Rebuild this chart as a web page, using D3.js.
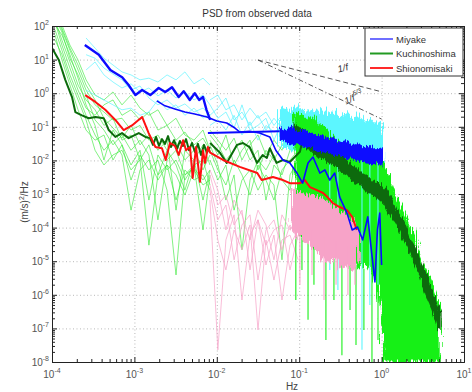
<!DOCTYPE html>
<html><head><meta charset="utf-8">
<script src="https://cdn.jsdelivr.net/npm/d3@7"></script>
<style>body{margin:0;background:#fff}text{font-family:"Liberation Sans",Arial,sans-serif}</style>
</head><body><svg id="c" width="472" height="392"></svg>
<script>
// ---------------- DATA (Hz, (m/s)^2/Hz) ----------------
const lowF = [1.09e-4,1.32e-4,1.65e-4,2.07e-4,2.59e-4,3.33e-4,4.27e-4,5.5e-4,7.07e-4,9.1e-4,1.17e-3,1.5e-3,1.93e-3,2.49e-3,3.2e-3,4.1e-3,5.29e-3,6.8e-3,8.26e-3];
const kuThinLow = [
 [2.1e2,7.6e1,1.9e1,4.9,1.24,0.45,0.275,0.16,0.18,0.08,0.11,0.04,0.057,0.02,0.035,0.0103,0.02,0.0052,0.0145],
 [1.5e2,3.8e1,8.5,1.75,0.63,0.32,0.11,0.18,0.04,0.057,0.0103,0.029,0.0037,0.02,0.0073,0.0013,0.0103,6.6e-4,0.0052],
 [3.0e2,1.07e2,2.7e1,9.7,2.5,0.88,0.63,1.09,0.45,0.88,0.36,0.22,0.32,0.11,0.18,0.057,0.04,0.08,0.02],
 [7.6e1,1.9e1,3.5,0.88,0.22,0.057,0.02,0.04,0.0145,3.3e-4,0.0052,0.0103,0.0026,0.0073,0.0037,9.3e-4,0.0052,0.00185,0.0026],
 [1.07e2,5.4e1,1.4e1,2.8,0.45,0.11,0.0103,0.08,0.029,0.0073,0.02,6.6e-4,0.0145,0.0052,0.0103,0.0026,0.0073,8.5e-5,0.0037],
 [1.7e2,6.6e1,1.1e1,3.5,0.88,0.16,0.08,0.029,0.057,0.02,0.04,0.0145,1.7e-4,0.0103,0.02,0.0037,0.0073,0.0103,0.00185],
 [3.8e1,1.4e1,2.5,0.63,0.16,0.02,0.0073,0.0145,0.02,0.0052,0.0103,3.0e-5,0.0037,0.0073,6.6e-4,0.0052,0.0026,0.0037,0.0013],
 [1.3e2,2.7e1,5.6,1.24,0.36,0.22,0.45,0.63,0.22,0.32,0.16,0.275,0.08,0.11,0.04,0.07,0.029,0.046,0.02],
 [5.4e1,9.7,1.75,0.32,0.08,0.04,0.057,0.0103,0.029,0.0026,0.0145,0.0052,0.0103,0.0013,3.9e-6,0.0037,0.0059,0.0026,0.0052],
 [2.6e2,8.7e1,2.2e1,6.9,1.75,0.63,0.18,0.092,0.046,0.11,0.029,0.057,0.02,0.04,3.3e-4,0.02,0.0103,0.029,0.0073]
];
const cyLowF = [2.59e-4,3.33e-4,4.27e-4,5.5e-4,7.07e-4,9.1e-4,1.17e-3,1.5e-3,1.93e-3,2.49e-3,3.2e-3,4.1e-3,5.29e-3,6.8e-3,8.26e-3];
const miThinLow = [
 [44,22,11,6.9,4.3,3.5,2.5,2.8,2.15,3.5,2.5,4.3,1.9,2.8,1.75],
 [4.9,8.5,3.5,2.15,1.43,1.9,1.09,1.43,0.83,1.24,0.72,1.09,0.63,0.88,0.45],
 [14,11,5.6,3.7,2.5,1.24,1.64,0.72,0.45,0.63,0.36,0.48,0.275,0.36,0.22],
 [1.24,0.88,0.63,0.45,0.32,0.36,0.22,0.275,0.63,0.32,0.45,0.22,0.36,0.18,0.275]
];
const midF = [8.26e-3,1.03e-2,1.29e-2,1.62e-2,2.02e-2,2.53e-2,3.16e-2,3.95e-2,4.94e-2,6.18e-2,7.73e-2,9.7e-2];
const miThinMid = [
 [0.63,0.88,0.32,0.45,0.16,0.36,0.18,0.275,0.11,0.22,0.16,0.18],
 [0.22,0.36,0.72,0.16,0.275,0.11,0.22,0.08,0.18,0.092,0.14,0.11],
 [0.11,0.16,0.08,0.22,0.057,0.14,0.04,0.11,0.07,0.092,0.057,0.08],
 [0.45,0.18,0.275,0.092,0.45,0.08,0.11,0.18,0.04,0.14,0.08,0.16]
];
const kuThinMid = [
 [0.04,0.0145,0.057,0.0073,0.02,0.04,0.0052,0.02,0.0103,0.029,0.057,0.11],
 [0.02,0.0052,0.00185,0.0103,0.0037,9.3e-4,0.0073,0.0026,6.6e-4,0.0052,0.0103,0.02],
 [0.057,0.029,0.0103,0.02,0.04,0.0103,0.02,6.6e-4,0.0073,0.0037,0.02,0.04],
 [0.0103,0.0026,0.0073,3.3e-4,0.0026,0.0052,0.0013,0.0037,0.00185,1.1e-5,0.0037,0.0103],
 [0.029,0.0073,6.6e-4,0.0037,2.2e-5,0.0026,0.0103,0.0052,0.0145,0.0026,0.0013,0.029],
 [0.08,0.04,0.02,0.046,0.0103,0.029,0.057,0.0145,0.04,0.02,0.08,0.16]
];
const shThinMid = [
 [0.0052,0.0013,8.5e-5,6.6e-4,2.4e-4,4.3e-5,3.3e-4,1.2e-4,1.1e-5,2.4e-4,8.5e-5,1.7e-4],
 [0.00185,1.7e-4,4.7e-4,1.1e-5,1.2e-4,2.4e-4,2.75e-6,8.5e-5,1.7e-4,2.2e-5,1.2e-4,4.3e-5],
 [6.6e-4,2.3e-8,4.3e-5,2.4e-4,7.0e-7,6.0e-5,1.7e-4,7.7e-6,6.0e-5,7.0e-7,3.0e-5,8.5e-5],
 [0.0037,4.7e-4,9.3e-4,1.2e-4,3.3e-4,5.5e-6,1.7e-4,3.0e-5,8.5e-5,1.2e-4,5.5e-6,6.0e-5],
 [0.0013,4.3e-5,5.5e-6,8.5e-5,2.2e-5,1.2e-4,9.0e-8,4.3e-5,2.75e-6,4.3e-5,6.0e-5,1.1e-5]
];
// high-frequency envelopes
const hiF = [5.8e-2,6.9e-2,8.2e-2,9.7e-2,1.15e-1,1.35e-1,1.6e-1,1.9e-1,2.24e-1,2.64e-1,3.1e-1,3.7e-1,4.4e-1,5.2e-1,6.1e-1,7.2e-1,8.55e-1,1.0];
const miBandHi = [0.092,0.075,0.099,0.065,0.08,0.061,0.05,0.057,0.04,0.046,0.033,0.038,0.027,0.031,0.023,0.027,0.02,0.023];
const miBandLo = [0.046,0.038,0.029,0.033,0.025,0.027,0.02,0.018,0.019,0.0145,0.0155,0.0118,0.0126,0.0096,0.0103,0.0078,0.009,0.0073];
const miIndHi = [0.275,0.36,0.26,0.42,0.3,0.34,0.22,0.36,0.24,0.275,0.18,0.26,0.16,0.21,0.13,0.17,0.106,0.14];
const miIndLo = [0.031,0.025,0.019,0.022,0.017,0.018,0.0135,0.0118,0.0126,0.0096,0.0103,0.0078,0.0084,0.0064,0.0068,0.0052,0.0059,0.0048];
const kuF = [8.9e-2,1.05e-1,1.24e-1,1.47e-1,1.74e-1,2.06e-1,2.43e-1,2.88e-1,3.4e-1,4.0e-1,4.75e-1,5.6e-1,6.65e-1,7.9e-1,9.3e-1,1.1,1.3,1.54,1.82,2.15,2.54,3.0,3.56,4.2,4.98];
const kuIndHi = [0.22,0.275,0.18,0.21,0.12,0.092,0.053,0.035,0.027,0.02,0.0155,0.0135,0.0118,0.0103,0.009,0.0059,0.0023,6.6e-4,2.9e-4,1.1e-4,4.3e-5,1.4e-5,4.8e-6,1.6e-6,5.0e-7];
const kuIndLo = [1.2e-4,4.3e-5,6.0e-5,2.2e-5,3.0e-5,1.5e-5,2.2e-5,9.5e-6,1.25e-5,7.7e-6,1.1e-5,6.3e-6,7.7e-6,3.9e-6,1.4e-6,1e-8,1e-8,1e-8,1e-8,1e-8,1e-8,1e-8,1e-8,1e-8,1e-8];
const kuBandHi = [0.106,0.08,0.065,0.038,0.033,0.023,0.022,0.0135,0.0118,0.0073,0.0059,0.0039,0.0032,0.0021,0.002,0.00123,6.6e-4,2.7e-4,1.5e-4,4.9e-5,2.5e-5,7.7e-6,3.2e-6,9.2e-7,3.1e-7];
const kuBandLo = [0.046,0.04,0.025,0.019,0.0126,0.0118,0.0084,0.0068,0.0045,0.0037,0.0023,0.002,0.00123,0.00107,7.6e-4,5.4e-4,2.5e-4,1.4e-4,5.2e-5,2.5e-5,8.8e-6,3.9e-6,1.05e-6,4.0e-7,9.0e-8];
const shF = [8.2e-2,9.7e-2,1.15e-1,1.35e-1,1.6e-1,1.9e-1,2.24e-1,2.64e-1,3.1e-1,3.7e-1,4.4e-1,5.2e-1];
const shIndHi = [0.0013,0.00115,0.001,8.7e-4,9.3e-4,7.1e-4,5.4e-4,4.1e-4,3.3e-4,2.5e-4,1.7e-4,7.4e-5];
const shIndLo = [9.7e-5,6.0e-5,4.3e-5,3.0e-5,2.2e-5,1.4e-5,9.5e-6,1.25e-5,6.3e-6,7.7e-6,4.8e-6,9.5e-6];
// downward spikes of the individual records
const kuSpikeF = [9.1e-2,1.08e-1,1.28e-1,1.51e-1,2.11e-1,2.64e-1,3.3e-1,4.14e-1,4.89e-1,6.1e-1,7.64e-1,9.04e-1];
const kuSpikeTop = [1e-4,5e-5,4e-5,2.5e-5,1.5e-5,1.2e-5,1e-5,8e-6,8e-6,6e-6,5e-6,3e-6];
const kuSpikeBot = [7.0e-7,5.5e-6,1.8e-7,2.0e-6,4.5e-8,7.0e-7,1.6e-8,3.5e-7,3.2e-8,9.0e-8,1e-8,4.5e-8];
const miSpikeF = [2.35e-1,2.95e-1,5.78e-1,7.2e-1,9.04e-1];
const miSpikeTop = [0.012,0.0103,0.01,0.008,0.008];
const miSpikeBot = [5.5e-6,1.4e-6,2.3e-8,5e-7,2.0e-6];
const shSpikeF = [1.02e-1,1.43e-1,2.0e-1,2.8e-1,3.9e-1,4.75e-1];
const shSpikeTop = [1e-4,8e-5,5e-5,4e-5,3e-5,3e-5];
const shSpikeBot = [2.0e-6,3.9e-6,7.0e-7,2.0e-6,9.9e-7,2.0e-6];
// thick (representative) curves
const miyLowF = [2.5e-4,3.7e-4,5.1e-4,7.1e-4,8.5e-4,1.03e-3,1.24e-3,1.56e-3,1.97e-3,2.37e-3,2.86e-3,3.45e-3,3.96e-3,4.7e-3,5.4e-3,6.1e-3,6.8e-3,7.5e-3,8.3e-3];
const miyLowV = [27,14,4.9,3.0,1.75,0.88,1.24,0.88,1.43,1.09,1.5,0.77,1.15,0.63,1.0,0.63,0.77,0.32,0.16];
const miyMidF = [1.87e-3,2.35e-3,3.1e-3,4.1e-3,5.4e-3,7.6e-3,1.0e-2,1.32e-2,1.66e-2,1.9e-2,2.5e-2,3.3e-2,4.4e-2,5.2e-2,6.35e-2,7.7e-2,9.4e-2,1.1e-1,1.28e-1,1.47e-1,1.78e-1,2.05e-1,2.35e-1,2.7e-1,3.1e-1,3.8e-1,4.4e-1,5.1e-1,5.9e-1,6.8e-1,7.5e-1,8.3e-1,8.9e-1,9.5e-1,1.0];
const miyMidV = [0.59,0.42,0.34,0.275,0.24,0.196,0.149,0.13,0.092,0.07,0.074,0.065,0.05,0.02,0.0103,0.0084,0.0042,0.0021,0.0084,0.0126,0.0042,0.0052,0.0026,0.0042,8.1e-4,2.7e-4,8.5e-5,1.04e-4,4.3e-5,2.1e-4,2.2e-5,2.4e-6,8.5e-5,2.7e-4,7.7e-6];
const miyLinkF = [7.8e-3,5.8e-2];
const miyLinkV = [0.065,0.074];
const kuLowF = [1.0e-4,1.21e-4,1.45e-4,1.75e-4,1.92e-4,2.31e-4,2.79e-4,3.36e-4,4.24e-4,4.88e-4,5.87e-4,7.07e-4,8.5e-4,1.13e-3,1.36e-3,1.55e-3,1.68e-3,1.83e-3,1.99e-3,2.16e-3,2.35e-3,2.56e-3,2.78e-3,3.03e-3,3.29e-3,3.57e-3,3.89e-3,4.23e-3,4.6e-3,5.0e-3,5.43e-3,5.9e-3,6.43e-3,7.0e-3,7.6e-3,8.26e-3];
const kuLowV = [22,9.7,2.5,0.77,0.275,0.22,0.18,0.196,0.18,0.08,0.05,0.065,0.046,0.065,0.05,0.046,0.029,0.05,0.027,0.043,0.031,0.053,0.025,0.04,0.022,0.038,0.027,0.043,0.02,0.033,0.018,0.031,0.0145,0.029,0.017,0.025];
const kuMidF = [8.3e-3,1.09e-2,1.32e-2,1.76e-2,2.08e-2,2.5e-2,3.08e-2,3.6e-2,4.05e-2,4.4e-2,5.3e-2,6.35e-2,7.7e-2,1.02e-1,1.1e-1];
const kuMidV = [0.033,0.017,0.0084,0.029,0.033,0.025,0.0084,0.0145,0.0118,0.023,0.0084,0.0103,0.009,0.018,0.04];
const shF2 = [2.53e-4,3.36e-4,4.43e-4,5.87e-4,7.42e-4,9.35e-4,1.24e-3,1.49e-3,1.8e-3,2.16e-3,2.4e-3,2.7e-3,3.1e-3,3.45e-3,3.9e-3,4.23e-3,4.73e-3,5.1e-3,5.6e-3,6.25e-3,6.8e-3,7.2e-3,7.8e-3,8.3e-3,1.19e-2,1.9e-2,3.1e-2,3.5e-2,4.8e-2,6.35e-2,7.7e-2,1.02e-1,1.17e-1,1.35e-1,1.64e-1,1.95e-1,2.2e-1,2.55e-1,3.1e-1,3.8e-1,4.4e-1,5.0e-1];
const shV = [0.88,0.55,0.32,0.16,0.08,0.11,0.196,0.065,0.025,0.023,0.0103,0.033,0.027,0.0145,0.04,0.02,0.025,0.003,0.025,0.0023,0.02,0.0084,0.025,0.017,0.0103,0.0064,0.0042,0.0026,0.0032,0.0026,0.0021,0.0021,0.0026,0.0016,0.0013,0.00107,8.1e-4,5.4e-4,4.1e-4,3.3e-4,2.1e-4,8.5e-5];
// reference slopes
const refF = [0.0316,1.0];
const refInv = [9.7,1.1];
const refInv53 = [9.7,0.17];
const stations = ["Miyake","Kuchinoshima","Shionomisaki"];
const xExp = [-4,-3,-2,-1,0,1];
const yExp = [-8,-7,-6,-5,-4,-3,-2,-1,0,1,2];

// ---------------- DRAWING ----------------
const svg = d3.select("#c");
const L = 52, R = 464, T = 26, B = 362;
const x = d3.scaleLog().domain([1e-4, 10]).range([L, R]);
const y = d3.scaleLog().domain([1e-8, 1e2]).range([B, T]);
const zip = (f, v) => f.map((d, i) => [d, v[i]]);
const line = d3.line().x(d => x(d[0])).y(d => y(d[1]));
const area = d3.area().x(d => x(d[0])).y0(d => y(d[1])).y1(d => y(d[2]));

const defs = svg.append("defs");
defs.append("clipPath").attr("id", "clip")
  .append("rect").attr("x", L).attr("y", T).attr("width", R - L).attr("height", B - T);
// fuzzy edge texture for the dense spectra
[["nzA", 7, 3], ["nzB", 14, 7]].forEach(([id, sc, seed]) => {
  const f = defs.append("filter").attr("id", id).attr("filterUnits", "userSpaceOnUse")
    .attr("x", 0).attr("y", 0).attr("width", 472).attr("height", 392);
  f.append("feTurbulence").attr("type", "fractalNoise").attr("baseFrequency", "0.8 0.04")
    .attr("numOctaves", 2).attr("seed", seed).attr("result", "t");
  f.append("feDisplacementMap").attr("in", "SourceGraphic").attr("in2", "t").attr("scale", sc)
    .attr("xChannelSelector", "B").attr("yChannelSelector", "R");
});

// grid
const majX = xExp.map(e => Math.pow(10, e));
const majY = yExp.map(e => Math.pow(10, e));
const grid = svg.append("g");
grid.append("g").attr("transform", `translate(0,${B})`)
  .call(d3.axisBottom(x).tickValues(majX.slice(1, -1)).tickSize(-(B - T)).tickFormat(""))
  .call(g => g.select(".domain").remove());
grid.append("g").attr("transform", `translate(${L},0)`)
  .call(d3.axisLeft(y).tickValues(majY.slice(1, -1)).tickSize(-(R - L)).tickFormat(""))
  .call(g => g.select(".domain").remove());
grid.selectAll(".tick line").attr("stroke", "#b0b0b0").attr("stroke-dasharray", "1,2.5").attr("stroke-width", 0.9);

const P = svg.append("g").attr("clip-path", "url(#clip)");
const drawLine = (data, col, w, op) => P.append("path").attr("d", line(data)).attr("fill", "none")
  .attr("stroke", col).attr("stroke-width", w).attr("stroke-opacity", op === undefined ? 1 : op).attr("stroke-linejoin", "round");
const drawBand = (f, lo, hi, col, nz, sw) => P.append("path").attr("d", area(f.map((d, i) => [d, lo[i], hi[i]])))
  .attr("fill", col).attr("stroke", col).attr("stroke-width", sw || 1.2).attr("filter", `url(#${nz})`);
const drawSpikes = (f, top, bot, col) => f.forEach((d, i) => drawLine([[d, top[i]], [d, bot[i]]], col, 1.1));

// individual records (thin)
kuThinLow.forEach(v => drawLine(zip(lowF, v), "#2fe82f", 0.8, 0.75));
kuThinMid.forEach(v => drawLine(zip(midF, v), "#2fe82f", 0.8, 0.75));
shThinMid.forEach(v => drawLine(zip(midF, v), "#f7a3c8", 0.8, 0.9));
miThinLow.forEach(v => drawLine(zip(cyLowF, v), "#66f4ff", 0.8, 0.9));
miThinMid.forEach(v => drawLine(zip(midF, v), "#5ff2ff", 0.8, 0.9));
// dense high-frequency records
drawBand(hiF, miIndLo, miIndHi, "#5cf6ff", "nzB");
drawBand(kuF, kuIndLo, kuIndHi, "#18f018", "nzB");
drawSpikes(kuSpikeF, kuSpikeTop, kuSpikeBot, "#18f018");
drawSpikes(miSpikeF, miSpikeTop, miSpikeBot, "#5cf6ff");
drawBand(shF, shIndLo, shIndHi, "#f7a3c8", "nzB");
drawSpikes(shSpikeF, shSpikeTop, shSpikeBot, "#f7a3c8");
// representative curves
drawBand(kuF, kuBandLo, kuBandHi, "#0b6b0b", "nzA", 3.2);
drawLine(zip(kuLowF, kuLowV), "#0b6b0b", 2);
drawLine(zip(kuMidF, kuMidV), "#0b6b0b", 2);
drawLine(zip(shF2, shV), "#ff1010", 2);
drawLine(zip(miyLinkF, miyLinkV), "#0a0aff", 2);
drawBand(hiF, miBandLo, miBandHi, "#0a0aff", "nzA", 1.8);
drawLine(zip(miyMidF, miyMidV), "#0a0aff", 1.6);
drawLine(zip(miyLowF, miyLowV), "#0a0aff", 2.4);

// reference slopes
const refG = svg.append("g");
refG.append("path").attr("d", line(zip(refF, refInv))).attr("fill", "none").attr("stroke", "#444").attr("stroke-width", 0.9).attr("stroke-dasharray", "5,3");
refG.append("path").attr("d", line(zip(refF, refInv53))).attr("fill", "none").attr("stroke", "#444").attr("stroke-width", 0.9).attr("stroke-dasharray", "5,2.5,1.2,2.5");
refG.append("text").attr("transform", `translate(${x(0.3)},${y(4.1)}) rotate(-15)`)
  .attr("font-family", "Liberation Serif").attr("font-style", "italic").attr("font-size", 9.5).attr("fill", "#333").text("1/f");
const t53 = refG.append("text").attr("transform", `translate(${x(0.37)},${y(0.46)}) rotate(-24)`)
  .attr("font-family", "Liberation Serif").attr("font-style", "italic").attr("font-size", 9.5).attr("fill", "#333");
t53.append("tspan").text("1/f");
t53.append("tspan").attr("dy", -5).attr("font-size", 6.5).text("5/3");

// axes box + ticks
const minX = [], minY = [];
xExp.slice(0, -1).forEach(e => { for (let k = 2; k <= 9; k++) minX.push(k * Math.pow(10, e)); });
yExp.slice(0, -1).forEach(e => { for (let k = 2; k <= 9; k++) minY.push(k * Math.pow(10, e)); });
const styleAx = g => { g.select(".domain").attr("stroke", "#222").attr("stroke-width", 1); g.selectAll(".tick line").attr("stroke", "#222"); };
function ax(gen, tr, vals, size) {
  svg.append("g").attr("transform", tr).call(gen.tickValues(vals).tickSize(size).tickSizeOuter(0).tickFormat("")).call(styleAx);
}
ax(d3.axisBottom(x), `translate(0,${B})`, majX, -5); ax(d3.axisBottom(x), `translate(0,${B})`, minX, -3);
ax(d3.axisTop(x), `translate(0,${T})`, majX, -5); ax(d3.axisTop(x), `translate(0,${T})`, minX, -3);
ax(d3.axisLeft(y), `translate(${L},0)`, majY, -5); ax(d3.axisLeft(y), `translate(${L},0)`, minY, -3);
ax(d3.axisRight(y), `translate(${R},0)`, majY, -5); ax(d3.axisRight(y), `translate(${R},0)`, minY, -3);

// tick labels
const lab = svg.append("g").attr("fill", "#555").attr("font-size", 10);
xExp.forEach(e => {
  const t = lab.append("text").attr("x", x(Math.pow(10, e))).attr("y", B + 16).attr("text-anchor", "middle");
  t.append("tspan").text("10");
  t.append("tspan").attr("dy", -5).attr("font-size", 7).text(e);
});
yExp.forEach(e => {
  const t = lab.append("text").attr("x", L - 3).attr("y", y(Math.pow(10, e)) + 4).attr("text-anchor", "end");
  t.append("tspan").text("10");
  t.append("tspan").attr("dy", -5).attr("font-size", 7).text(e);
});

// titles
svg.append("text").attr("x", 257).attr("y", 17).attr("text-anchor", "middle").attr("font-size", 10).attr("fill", "#333").text("PSD from observed data");
svg.append("text").attr("x", 292).attr("y", 390).attr("text-anchor", "middle").attr("font-size", 10).attr("fill", "#444").text("Hz");
const yl = svg.append("text").attr("transform", `translate(28,202) rotate(-90)`).attr("text-anchor", "middle").attr("font-size", 10).attr("fill", "#444");
yl.append("tspan").text("(m/s)");
yl.append("tspan").attr("dy", -4).attr("font-size", 7).text("2");
yl.append("tspan").attr("dy", 4).text("/Hz");

// legend
const legCols = ["#6f6fff", "#229a22", "#ff2a2a"];
const lg = svg.append("g").attr("transform", "translate(365,28)");
lg.append("rect").attr("width", 98).attr("height", 48).attr("fill", "#fff").attr("stroke", "#333").attr("stroke-width", 1);
stations.forEach((s, i) => {
  const yy = 11 + i * 14.5;
  lg.append("line").attr("x1", 5).attr("x2", 28).attr("y1", yy).attr("y2", yy).attr("stroke", legCols[i]).attr("stroke-width", 2);
  lg.append("text").attr("x", 31).attr("y", yy + 3.5).attr("font-size", 9.5).attr("fill", "#333").text(s);
});
</script></body></html>
